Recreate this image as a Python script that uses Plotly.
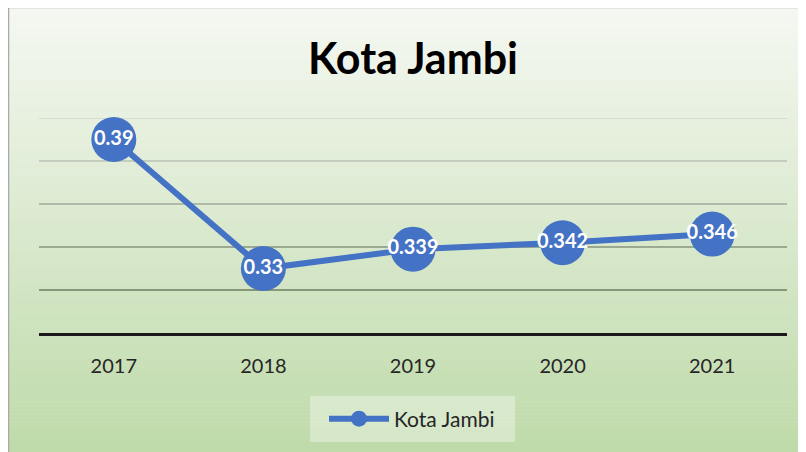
import plotly.graph_objects as go

# ---- data ----
years = ["2017", "2018", "2019", "2020", "2021"]
values = [0.39, 0.33, 0.339, 0.342, 0.346]
series_name = "Kota Jambi"
title_text = "Kota Jambi"
y_range = [0.30, 0.40]
grid_ticks = [0.32, 0.34, 0.36, 0.38, 0.40]

W, H = 806, 452
OFF = 8  # browser body margin
# plot area in window pixels: x 39..787, y 118..333
L = 39 - OFF
T = 118 - OFF
R = W - (787 - OFF)
B = H - (333 - OFF)
PW, PH = W - L - R, H - T - B

def px_x(p):  # window pixel -> paper
    return (p - OFF - L) / PW

def px_y(p):
    return (H - B - (p - OFF)) / PH

def lerp(c1, c2, t):
    return tuple(int(round(a + (b - a) * t)) for a, b in zip(c1, c2))

FONT = "Lato, 'Open Sans', sans-serif"
BLUE = "#4472C4"

shapes = []
# gradient background (chart area)
top_c = (0xF5, 0xF8, 0xF2)
bot_c = (0xBE, 0xDA, 0xA9)
y0p, y1p = 8, H + 2
n = 112
step = (y1p - y0p) / n
for i in range(n):
    a = y0p + i * step
    b = a + step + 0.6
    c = lerp(top_c, bot_c, (i + 0.5) / n)
    shapes.append(dict(type="rect", xref="paper", yref="paper",
                       x0=px_x(9), x1=px_x(W + 20), y0=px_y(a), y1=px_y(b),
                       fillcolor="rgb(%d,%d,%d)" % c, line=dict(width=0), layer="below"))
# chart border
shapes.append(dict(type="rect", xref="paper", yref="paper",
                   x0=px_x(8.5), x1=px_x(W + 20), y0=px_y(7.5), y1=px_y(H + 20),
                   fillcolor="rgba(0,0,0,0)", line=dict(color="#A9A9A9", width=1.5), layer="below"))
# gridlines with gradient tone
for gv in grid_ticks:
    t = 1 - (gv - y_range[0]) / (y_range[1] - y_range[0])
    c = lerp((0xD2, 0xD6, 0xCE), (0x6E, 0x7E, 0x62), min(t / 0.8, 1))
    shapes.append(dict(type="line", xref="paper", yref="y",
                       x0=0, x1=1, y0=gv, y1=gv,
                       line=dict(color="rgb(%d,%d,%d)" % c, width=1.6), layer="below"))
# legend box
shapes.append(dict(type="rect", xref="paper", yref="paper",
                   x0=px_x(310), x1=px_x(515), y0=px_y(396), y1=px_y(442),
                   fillcolor="rgba(255,255,255,0.35)", line=dict(width=0), layer="below"))

fig = go.Figure()
fig.add_trace(go.Scatter(
    x=years, y=values, name=series_name,
    mode="lines+markers+text",
    line=dict(color=BLUE, width=6),
    marker=dict(color=BLUE, size=45, line=dict(width=0)),
    text=[str(v) for v in values],
    textposition="middle center",
    textfont=dict(family=FONT, size=20, color="white", weight="bold"),
    cliponaxis=False,
))

fig.update_layout(
    width=W, height=H,
    margin=dict(l=L, r=R, t=T, b=B, pad=0),
    paper_bgcolor="white",
    plot_bgcolor="rgba(0,0,0,0)",
    shapes=shapes,
    title=dict(text="<b>%s</b>" % title_text, x=px_x(413), xref="paper", xanchor="center",
               y=1 - (59 - OFF) / H, yanchor="middle",
               font=dict(family=FONT, size=43, color="black")),
    showlegend=True,
    legend=dict(orientation="h", x=px_x(412), xanchor="center",
                y=px_y(419), yanchor="middle",
                bgcolor="rgba(0,0,0,0)",
                font=dict(family=FONT, size=21, color="#262626"),
                itemwidth=60),
    xaxis=dict(type="category", range=[-0.5, 4.5], showgrid=False, zeroline=False,
               showline=True, linecolor="#1A1A1A", linewidth=3,
               ticks="outside", ticklen=13, tickcolor="rgba(0,0,0,0)",
               tickfont=dict(family=FONT, size=20, color="#262626")),
    yaxis=dict(range=y_range, showgrid=False, zeroline=False, showticklabels=False,
               showline=False, ticks=""),
)

fig.write_html("out.html")
